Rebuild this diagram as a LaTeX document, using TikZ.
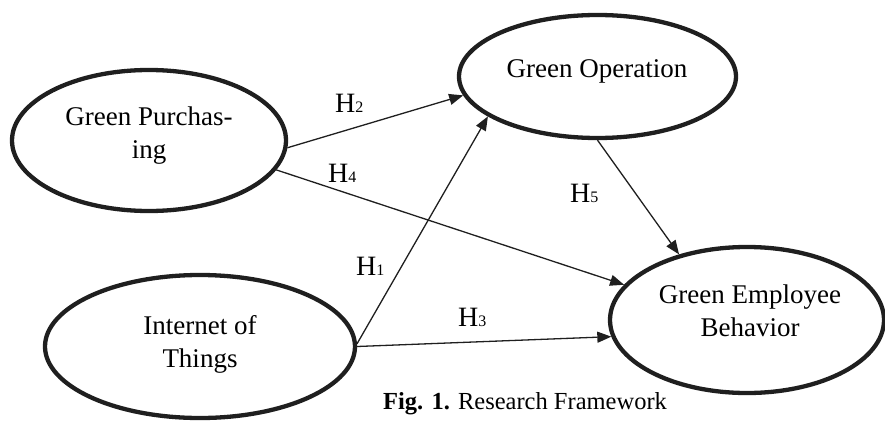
\documentclass[tikz,border=0pt]{standalone}
\usepackage{fontspec}
\setmainfont{Liberation Serif}
\usetikzlibrary{arrows.meta,shapes.geometric}
\newcommand\Hlab[1]{H{\fontsize{16}{16}\selectfont #1}}
\tikzset{
  construct/.style={ellipse,draw=black!88,line width=4.3pt,inner sep=0pt},
  txt/.style={font=\fontsize{27}{33}\selectfont,align=center,inner sep=0pt,anchor=base},
  hlab/.style={font=\fontsize{28}{28}\selectfont,inner sep=0pt,anchor=base west},
  path/.style={draw=black!88,line width=1.3pt,-{Triangle[length=14pt,width=11pt]}}
}
\begin{document}
\begin{tikzpicture}[x=1pt,y=-1pt]
\useasboundingbox (0,0) rectangle (885,423);
% constructs
\node[construct,minimum width=274pt,minimum height=141pt] (gp) at (149,140.5) {};
\node[construct,minimum width=310pt,minimum height=143pt] (iot) at (200,346.5) {};
\node[construct,minimum width=277pt,minimum height=123pt] (go) at (597.5,76.5) {};
\node[construct,minimum width=274pt,minimum height=146pt] (geb) at (747,320) {};
% texts (base = baseline of last line)
\node[txt] (gpt) at (149,158) {Green Purchas-\\ing};
\node[txt] (iott) at (200,367) {Internet of\\Things};
\node[txt] (got) at (597,77) {Green Operation};
\node[txt] (gebt) at (750,336) {Green Employee\\Behavior};
% paths
\draw[path] (gp.-3) -- (go.188.7);
\draw[path] (gp.-13.7) -- (geb.164.4);
\draw[path] (iot.1.3) -- (go.200);
\draw[path] (iot.-0.9) -- (geb.187.3);
\draw[path] (go.-90) -- (geb.136.6);
% labels
\node[hlab] (h2) at (335,112) {\Hlab{2}};
\node[hlab] (h4) at (328,182) {\Hlab{4}};
\node[hlab] (h1) at (356,275) {\Hlab{1}};
\node[hlab] (h3) at (458,326) {\Hlab{3}};
\node[hlab] (h5) at (570,202) {\Hlab{5}};
% caption
\node[font=\fontsize{24.5}{24.5}\selectfont,inner sep=0pt,anchor=base west] (cap) at (383,409) {\textbf{Fig. 1.} Research Framework};
\end{tikzpicture}
\end{document}
